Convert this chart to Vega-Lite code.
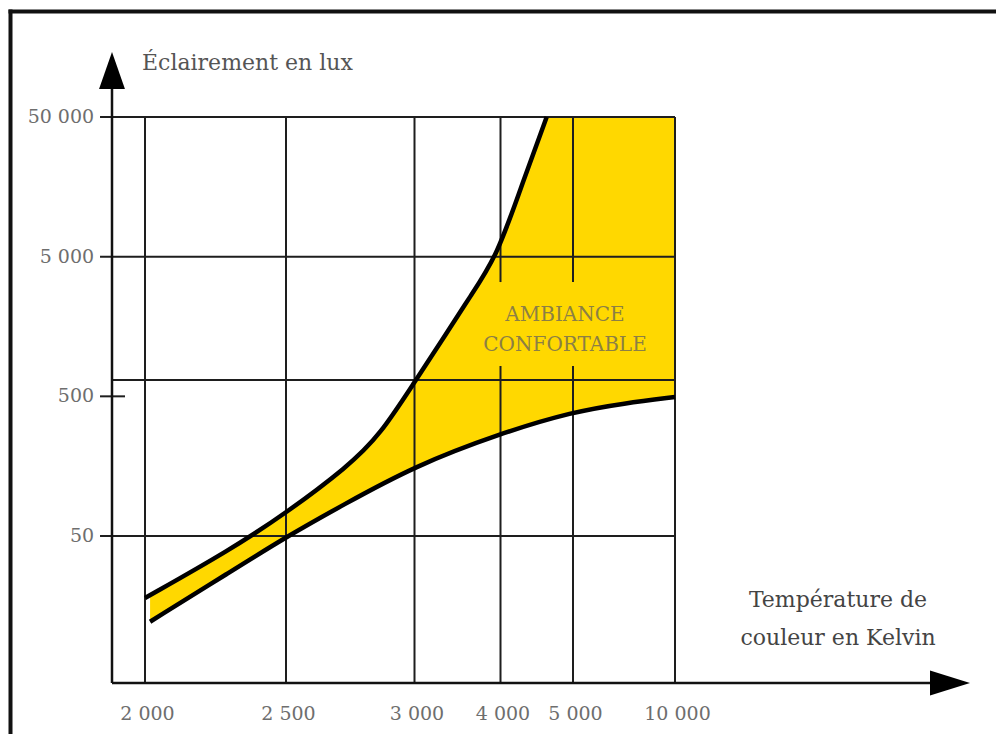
{
  "$schema": "https://vega.github.io/schema/vega-lite/v6.json",
  "width": 996,
  "height": 734,
  "autosize": {"type": "none"},
  "padding": 0,
  "background": "white",
  "config": {
    "view": {"stroke": null},
    "axis": {"disable": true},
    "text": {"font": "DejaVu Serif"}
  },
  "datasets": {
    "upper": [
      {"T": 2000, "lux": 18.0},
      {"T": 2301, "lux": 39.7},
      {"T": 2500, "lux": 73},
      {"T": 2740, "lux": 156.7},
      {"T": 2866, "lux": 264.5},
      {"T": 3000, "lux": 633},
      {"T": 3374, "lux": 1414},
      {"T": 3645, "lux": 2584},
      {"T": 3956, "lux": 5000},
      {"T": 4269, "lux": 15000},
      {"T": 4637, "lux": 50000}
    ],
    "lower": [
      {"T": 2018, "lux": 12.17},
      {"T": 2301, "lux": 27.6},
      {"T": 2500, "lux": 49.2},
      {"T": 2721, "lux": 83.3},
      {"T": 3000, "lux": 158.5},
      {"T": 4000, "lux": 271.8},
      {"T": 5000, "lux": 388},
      {"T": 7515, "lux": 445.8},
      {"T": 10000, "lux": 494.5}
    ],
    "vgrid": [
      {"T": 2000, "lo": 4.431, "hi": 50000},
      {"T": 2500, "lo": 4.431, "hi": 50000},
      {"T": 3000, "lo": 4.431, "hi": 50000},
      {"T": 4000, "lo": 4.431, "hi": 824},
      {"T": 4000, "lo": 3290, "hi": 50000},
      {"T": 5000, "lo": 4.431, "hi": 824},
      {"T": 5000, "lo": 3290, "hi": 50000},
      {"T": 10000, "lo": 4.431, "hi": 50000}
    ],
    "hgrid": [
      {"lux": 50000, "from": 1441, "to": 10000},
      {"lux": 5000, "from": 1441, "to": 10000},
      {"lux": 654, "from": 1500, "to": 10000},
      {"lux": 500, "from": 1441, "to": 1697},
      {"lux": 50, "from": 1441, "to": 10000}
    ],
    "xlabels": [
      {"T": 2000, "label": "2 000"},
      {"T": 2500, "label": "2 500"},
      {"T": 3000, "label": "3 000"},
      {"T": 4000, "label": "4 000"},
      {"T": 5000, "label": "5 000"},
      {"T": 10000, "label": "10 000"}
    ],
    "ylabels": [
      {"lux": 50000, "label": "50 000"},
      {"lux": 5000, "label": "5 000"},
      {"lux": 500, "label": "500"},
      {"lux": 50, "label": "50"}
    ]
  },
  "layer": [
    {
      "data": {"name": "lower"},
      "mark": {"type": "area", "color": "#FFD800", "interpolate": "basis", "opacity": 1},
      "encoding": {
        "x": {"field": "T", "type": "quantitative", "scale": {"type": "linear", "domain": [1000, 1500, 2000, 2500, 3000, 4000, 5000, 10000, 20000], "range": [10.5, 112, 145, 286, 414.5, 500.5, 573, 675, 950], "nice": false, "zero": false}},
        "y": {"field": "lux", "type": "quantitative", "scale": {"type": "log", "domain": [1.912, 344000], "range": [734, 0], "nice": false}},
        "y2": {"datum": 50000}
      }
    },
    {
      "data": {"name": "upper"},
      "mark": {"type": "area", "color": "white", "interpolate": "basis", "opacity": 1},
      "encoding": {
        "x": {"field": "T", "type": "quantitative"},
        "y": {"field": "lux", "type": "quantitative"},
        "y2": {"datum": 50000}
      }
    },
    {
      "data": {"name": "vgrid"},
      "mark": {"type": "rule", "color": "#1e1e1e", "strokeWidth": 2},
      "encoding": {
        "x": {"field": "T", "type": "quantitative"},
        "y": {"field": "lo", "type": "quantitative"},
        "y2": {"field": "hi"}
      }
    },
    {
      "data": {"name": "hgrid"},
      "mark": {"type": "rule", "color": "#1e1e1e", "strokeWidth": 2},
      "encoding": {
        "y": {"field": "lux", "type": "quantitative"},
        "x": {"field": "from", "type": "quantitative"},
        "x2": {"field": "to"}
      }
    },
    {
      "data": {"values": [{}]},
      "mark": {"type": "rule", "color": "#111", "strokeWidth": 2.5},
      "encoding": {
        "x": {"datum": 1500, "type": "quantitative"},
        "y": {"datum": 4.431, "type": "quantitative"},
        "y2": {"datum": 107600}
      }
    },
    {
      "data": {"values": [{}]},
      "mark": {"type": "rule", "color": "#111", "strokeWidth": 2.5},
      "encoding": {
        "y": {"datum": 4.431, "type": "quantitative"},
        "x": {"datum": 1500, "type": "quantitative"},
        "x2": {"datum": 20000}
      }
    },
    {
      "data": {"values": [{}]},
      "mark": {"type": "rule", "color": "#111", "strokeWidth": 4, "strokeCap": "square"},
      "encoding": {
        "x": {"datum": 1000, "type": "quantitative"},
        "y": {"datum": 1, "type": "quantitative"},
        "y2": {"datum": 284600}
      }
    },
    {
      "data": {"values": [{}]},
      "mark": {"type": "rule", "color": "#111", "strokeWidth": 4, "strokeCap": "square"},
      "encoding": {
        "y": {"datum": 284600, "type": "quantitative"},
        "x": {"datum": 1000, "type": "quantitative"},
        "x2": {"datum": 22000}
      }
    },
    {
      "data": {"name": "lower"},
      "mark": {"type": "line", "color": "black", "strokeWidth": 4.5, "interpolate": "basis"},
      "encoding": {
        "x": {"field": "T", "type": "quantitative"},
        "y": {"field": "lux", "type": "quantitative"}
      }
    },
    {
      "data": {"name": "upper"},
      "mark": {"type": "line", "color": "black", "strokeWidth": 4.5, "interpolate": "basis"},
      "encoding": {
        "x": {"field": "T", "type": "quantitative"},
        "y": {"field": "lux", "type": "quantitative"}
      }
    },
    {
      "data": {"values": [{}]},
      "mark": {"type": "point", "shape": "M0,-1L0.7,1L-0.7,1Z", "filled": true, "color": "black", "opacity": 1, "size": 1369},
      "encoding": {
        "x": {"datum": 1500, "type": "quantitative"},
        "y": {"datum": 107600, "type": "quantitative"}
      }
    },
    {
      "data": {"values": [{}]},
      "mark": {"type": "point", "shape": "M1,0L-1,-0.625L-1,0.625Z", "filled": true, "color": "black", "opacity": 1, "size": 1600},
      "encoding": {
        "x": {"datum": 20000, "type": "quantitative"},
        "y": {"datum": 4.431, "type": "quantitative"}
      }
    },
    {
      "data": {"name": "xlabels"},
      "mark": {"type": "text", "font": "DejaVu Serif", "fontSize": 19, "color": "#6e6e6e", "align": "center", "baseline": "middle", "dx": 2.5},
      "encoding": {
        "x": {"field": "T", "type": "quantitative"},
        "y": {"datum": 2.66, "type": "quantitative"},
        "text": {"field": "label"}
      }
    },
    {
      "data": {"name": "ylabels"},
      "mark": {"type": "text", "font": "DejaVu Serif", "fontSize": 19, "color": "#6e6e6e", "align": "right", "baseline": "middle"},
      "encoding": {
        "x": {"datum": 1412, "type": "quantitative"},
        "y": {"field": "lux", "type": "quantitative"},
        "text": {"field": "label"}
      }
    },
    {
      "data": {"values": [{"t": "Éclairement en lux"}]},
      "mark": {"type": "text", "font": "DejaVu Serif", "fontSize": 22, "color": "#555555", "align": "left", "baseline": "alphabetic"},
      "encoding": {
        "x": {"datum": 1955, "type": "quantitative"},
        "y": {"datum": 108500, "type": "quantitative"},
        "text": {"field": "t"}
      }
    },
    {
      "data": {"values": [{"t": "Température de"}]},
      "mark": {"type": "text", "font": "DejaVu Serif", "fontSize": 22, "color": "#444444", "align": "center", "baseline": "alphabetic"},
      "encoding": {
        "x": {"datum": 15927, "type": "quantitative"},
        "y": {"datum": 15.5, "type": "quantitative"},
        "text": {"field": "t"}
      }
    },
    {
      "data": {"values": [{"t": "couleur en Kelvin"}]},
      "mark": {"type": "text", "font": "DejaVu Serif", "fontSize": 22, "color": "#444444", "align": "center", "baseline": "alphabetic"},
      "encoding": {
        "x": {"datum": 15927, "type": "quantitative"},
        "y": {"datum": 8.29, "type": "quantitative"},
        "text": {"field": "t"}
      }
    },
    {
      "data": {"values": [{"t": "AMBIANCE"}]},
      "mark": {"type": "text", "font": "DejaVu Serif", "fontSize": 20, "color": "#8c7f45", "align": "center", "baseline": "alphabetic"},
      "encoding": {
        "x": {"datum": 4890, "type": "quantitative"},
        "y": {"datum": 1740, "type": "quantitative"},
        "text": {"field": "t"}
      }
    },
    {
      "data": {"values": [{"t": "CONFORTABLE"}]},
      "mark": {"type": "text", "font": "DejaVu Serif", "fontSize": 20, "color": "#8c7f45", "align": "center", "baseline": "alphabetic"},
      "encoding": {
        "x": {"datum": 4890, "type": "quantitative"},
        "y": {"datum": 1061, "type": "quantitative"},
        "text": {"field": "t"}
      }
    }
  ]
}
